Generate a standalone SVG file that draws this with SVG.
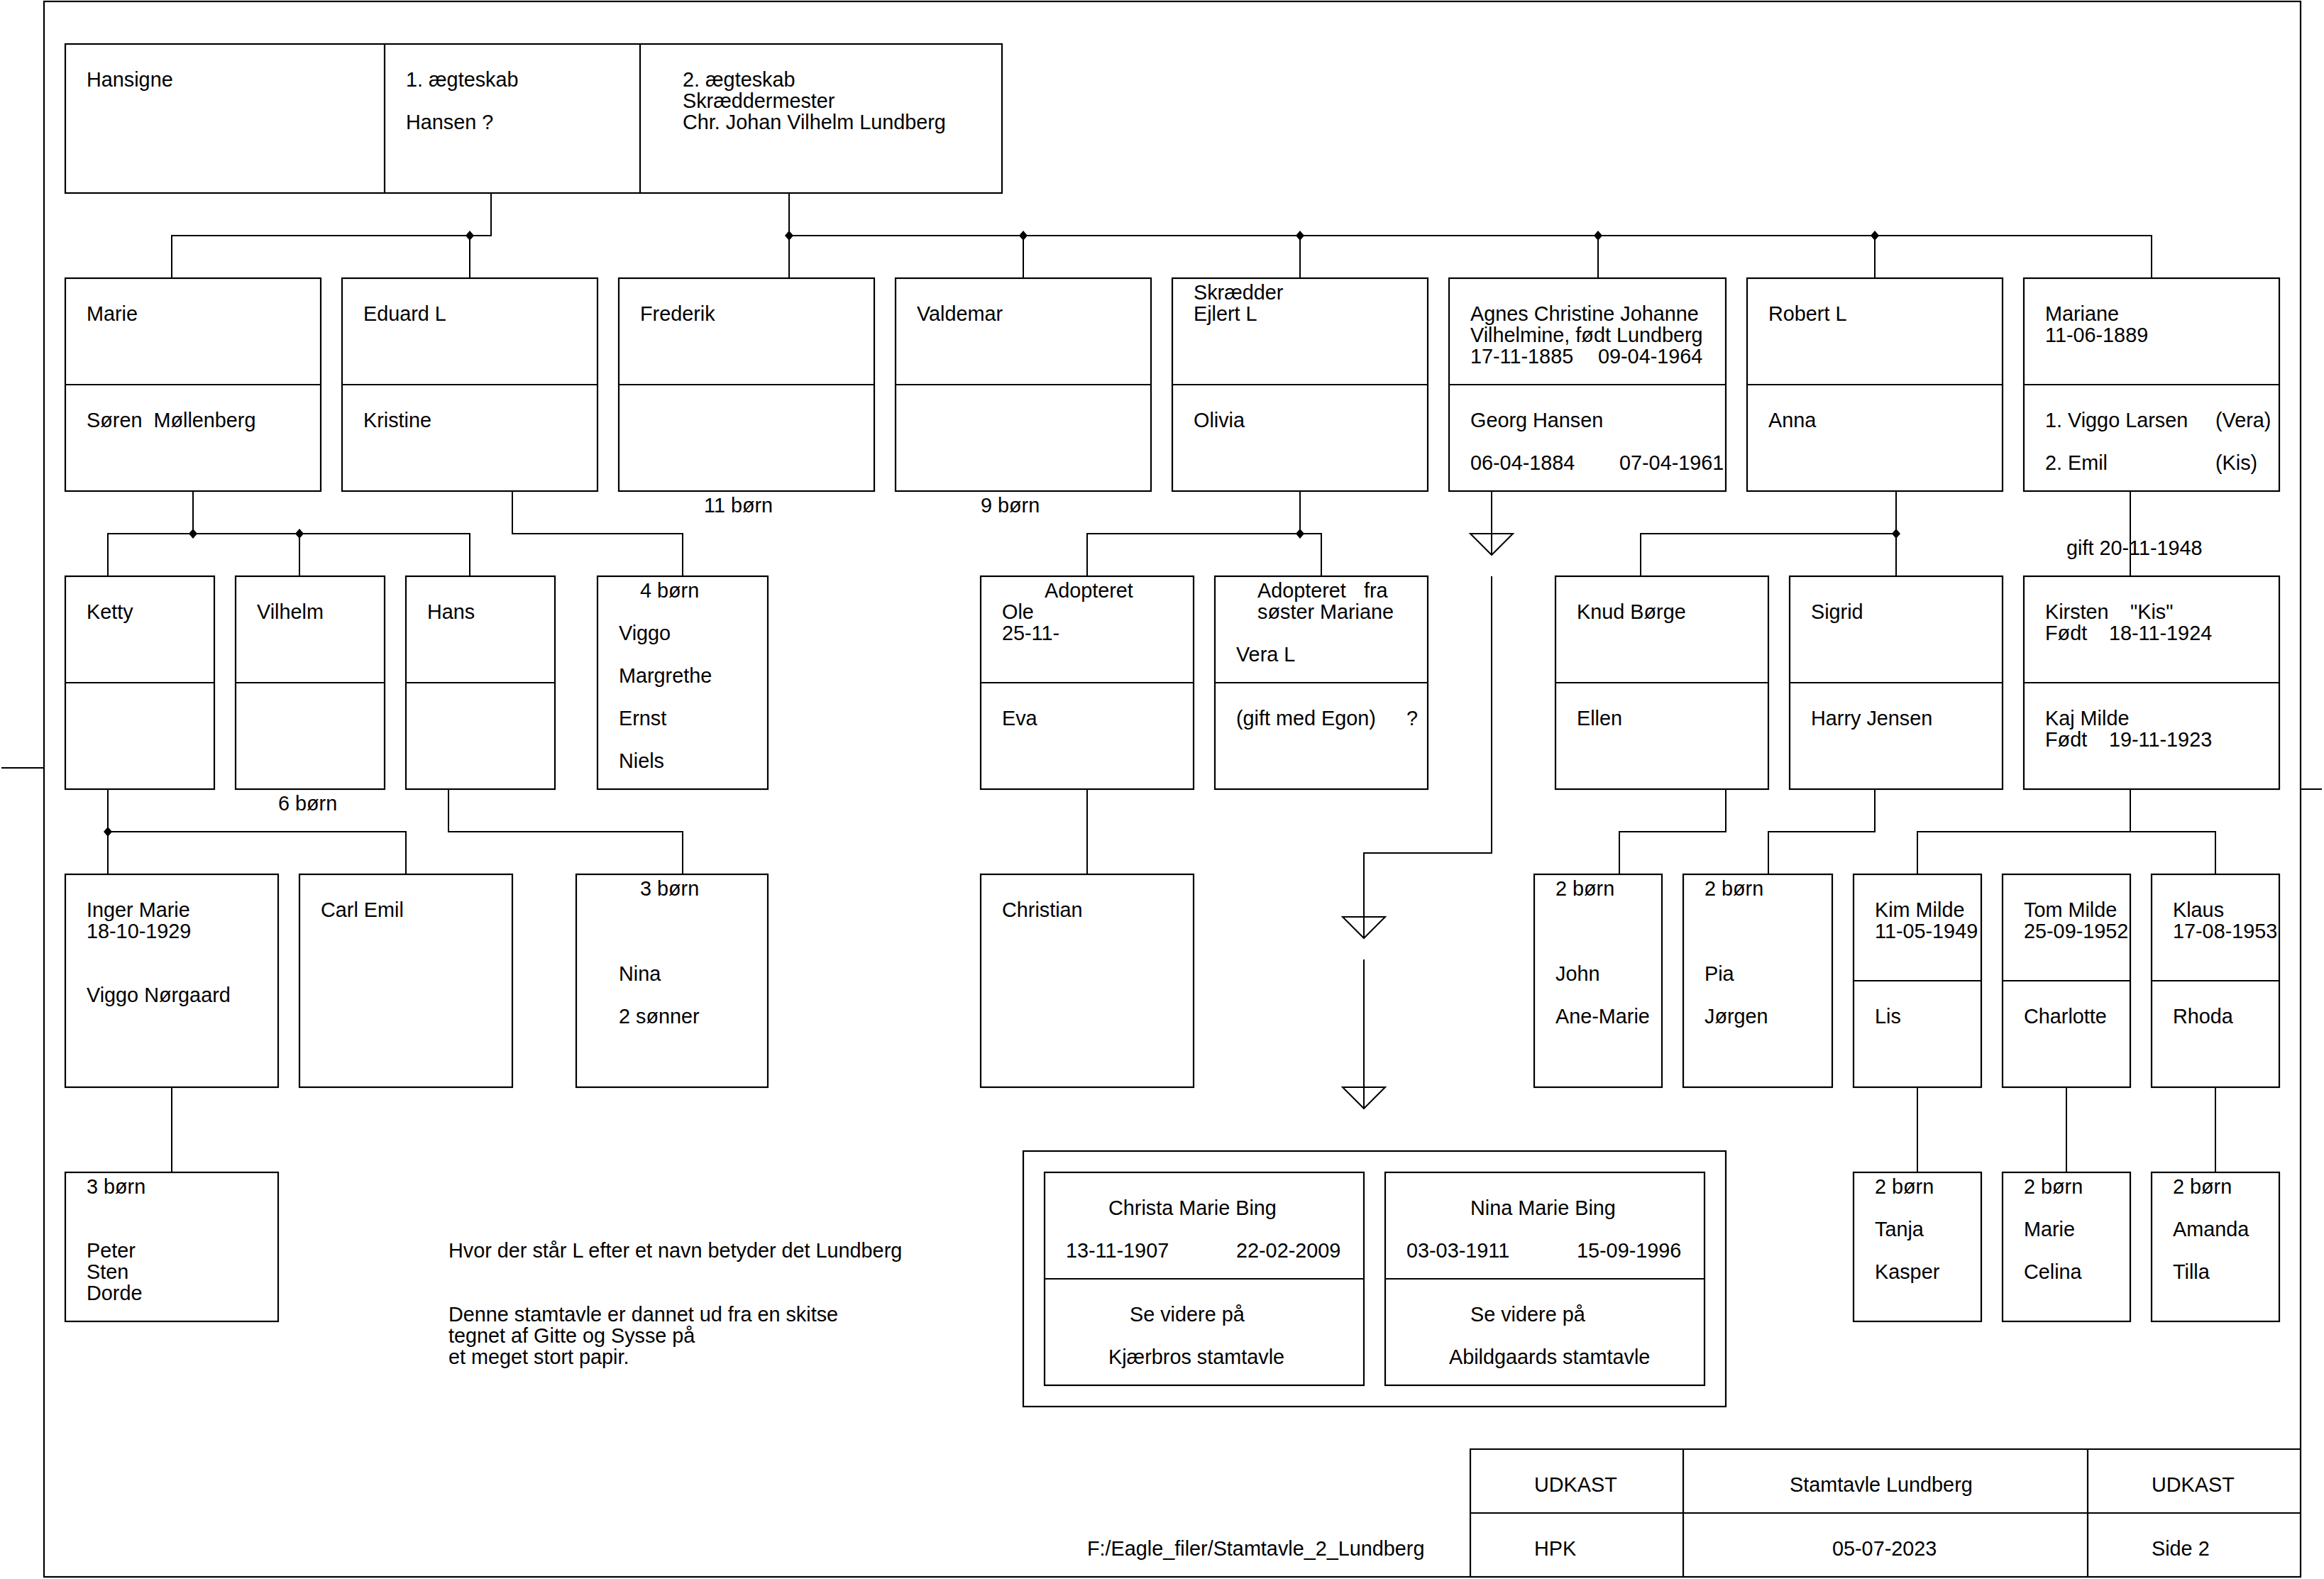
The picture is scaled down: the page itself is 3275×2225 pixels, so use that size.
<svg xmlns="http://www.w3.org/2000/svg" xmlns:xlink="http://www.w3.org/1999/xlink" width="3275" height="2225" viewBox="0 0 3275 2225">
<style>
.b{fill:none;stroke:#000;stroke-width:2.2}
.c{fill:none;stroke:#000;stroke-width:2}
text{font-family:"Liberation Sans",Arial,sans-serif;font-size:28.8px;fill:#000;white-space:pre}
</style>
<defs>
<path id="dot" d="M0,-7 L6,0 L0,7 L-6,0 Z" fill="#000"/>
</defs>
<rect x="0" y="0" width="3275" height="2225" fill="#fff"/>
<g id="frame">
<rect class="b" x="62" y="2" width="3180" height="2220"/>
<line class="c" x1="2" y1="1082" x2="62" y2="1082"/>
<line class="c" x1="3242" y1="1112" x2="3272" y2="1112"/>
</g>
<g id="connectors">
<polyline class="c" points="692,272 692,332 242,332 242,392"/>
<line class="c" x1="662" y1="332" x2="662" y2="392"/>
<use xlink:href="#dot" x="662" y="332"/>
<polyline class="c" points="1112,272 1112,332 3032,332 3032,392"/>
<line class="c" x1="1112" y1="332" x2="1112" y2="392"/>
<line class="c" x1="1442" y1="332" x2="1442" y2="392"/>
<line class="c" x1="1832" y1="332" x2="1832" y2="392"/>
<line class="c" x1="2252" y1="332" x2="2252" y2="392"/>
<line class="c" x1="2642" y1="332" x2="2642" y2="392"/>
<use xlink:href="#dot" x="1112" y="332"/>
<use xlink:href="#dot" x="1442" y="332"/>
<use xlink:href="#dot" x="1832" y="332"/>
<use xlink:href="#dot" x="2252" y="332"/>
<use xlink:href="#dot" x="2642" y="332"/>
<polyline class="c" points="272,692 272,752"/>
<polyline class="c" points="152,812 152,752 662,752 662,812"/>
<line class="c" x1="422" y1="752" x2="422" y2="812"/>
<use xlink:href="#dot" x="272" y="752"/>
<use xlink:href="#dot" x="422" y="752"/>
<polyline class="c" points="722,692 722,752 962,752 962,812"/>
<line class="c" x1="1832" y1="692" x2="1832" y2="752"/>
<polyline class="c" points="1532,812 1532,752 1862,752 1862,812"/>
<use xlink:href="#dot" x="1832" y="752"/>
<line class="c" x1="2102" y1="692" x2="2102" y2="782"/>
<polygon class="c" points="2072,752 2132,752 2102,782"/>
<polyline class="c" points="2102,812 2102,1202 1922,1202 1922,1322"/>
<polygon class="c" points="1892,1292 1952,1292 1922,1322"/>
<line class="c" x1="1922" y1="1352" x2="1922" y2="1562"/>
<polygon class="c" points="1892,1532 1952,1532 1922,1562"/>
<line class="c" x1="2672" y1="692" x2="2672" y2="752"/>
<polyline class="c" points="2312,812 2312,752 2672,752 2672,812"/>
<use xlink:href="#dot" x="2672" y="752"/>
<line class="c" x1="3002" y1="692" x2="3002" y2="812"/>
<line class="c" x1="152" y1="1112" x2="152" y2="1232"/>
<polyline class="c" points="152,1172 572,1172 572,1232"/>
<use xlink:href="#dot" x="152" y="1172"/>
<polyline class="c" points="632,1112 632,1172 962,1172 962,1232"/>
<line class="c" x1="1532" y1="1112" x2="1532" y2="1232"/>
<polyline class="c" points="2432,1112 2432,1172 2282,1172 2282,1232"/>
<polyline class="c" points="2642,1112 2642,1172 2492,1172 2492,1232"/>
<line class="c" x1="3002" y1="1112" x2="3002" y2="1172"/>
<polyline class="c" points="2702,1232 2702,1172 3122,1172 3122,1232"/>
<line class="c" x1="242" y1="1532" x2="242" y2="1652"/>
<line class="c" x1="2702" y1="1532" x2="2702" y2="1652"/>
<line class="c" x1="2912" y1="1532" x2="2912" y2="1652"/>
<line class="c" x1="3122" y1="1532" x2="3122" y2="1652"/>
</g>
<g id="n_hansigne">
<rect class="b" x="92" y="62" width="1320" height="210"/>
<line class="b" x1="542" y1="62" x2="542" y2="272"/>
<line class="b" x1="902" y1="62" x2="902" y2="272"/>
<text x="122" y="122">Hansigne</text>
<text x="572" y="122">1. ægteskab</text>
<text x="572" y="182">Hansen ?</text>
<text x="962" y="122">2. ægteskab</text>
<text x="962" y="152">Skræddermester</text>
<text x="962" y="182">Chr. Johan Vilhelm Lundberg</text>
</g>
<g id="n_marie">
<rect class="b" x="92" y="392" width="360" height="300"/>
<line class="b" x1="92" y1="542" x2="452" y2="542"/>
<text x="122" y="452">Marie</text>
<text x="122" y="602">Søren  Møllenberg</text>
</g>
<g id="n_eduard">
<rect class="b" x="482" y="392" width="360" height="300"/>
<line class="b" x1="482" y1="542" x2="842" y2="542"/>
<text x="512" y="452">Eduard L</text>
<text x="512" y="602">Kristine</text>
</g>
<g id="n_frederik">
<rect class="b" x="872" y="392" width="360" height="300"/>
<line class="b" x1="872" y1="542" x2="1232" y2="542"/>
<text x="902" y="452">Frederik</text>
<text x="992" y="722">11 børn</text>
</g>
<g id="n_valdemar">
<rect class="b" x="1262" y="392" width="360" height="300"/>
<line class="b" x1="1262" y1="542" x2="1622" y2="542"/>
<text x="1292" y="452">Valdemar</text>
<text x="1382" y="722">9 børn</text>
</g>
<g id="n_ejlert">
<rect class="b" x="1652" y="392" width="360" height="300"/>
<line class="b" x1="1652" y1="542" x2="2012" y2="542"/>
<text x="1682" y="422">Skrædder</text>
<text x="1682" y="452">Ejlert L</text>
<text x="1682" y="602">Olivia</text>
</g>
<g id="n_agnes">
<rect class="b" x="2042" y="392" width="390" height="300"/>
<line class="b" x1="2042" y1="542" x2="2432" y2="542"/>
<text x="2072" y="452">Agnes Christine Johanne</text>
<text x="2072" y="482">Vilhelmine, født Lundberg</text>
<text x="2072" y="512">17-11-1885</text>
<text x="2252" y="512">09-04-1964</text>
<text x="2072" y="602">Georg Hansen</text>
<text x="2072" y="662">06-04-1884</text>
<text x="2282" y="662">07-04-1961</text>
</g>
<g id="n_robert">
<rect class="b" x="2462" y="392" width="360" height="300"/>
<line class="b" x1="2462" y1="542" x2="2822" y2="542"/>
<text x="2492" y="452">Robert L</text>
<text x="2492" y="602">Anna</text>
</g>
<g id="n_mariane">
<rect class="b" x="2852" y="392" width="360" height="300"/>
<line class="b" x1="2852" y1="542" x2="3212" y2="542"/>
<text x="2882" y="452">Mariane</text>
<text x="2882" y="482">11-06-1889</text>
<text x="2882" y="602">1. Viggo Larsen</text>
<text x="3122" y="602">(Vera)</text>
<text x="2882" y="662">2. Emil</text>
<text x="3122" y="662">(Kis)</text>
<text x="2912" y="782">gift 20-11-1948</text>
</g>
<g id="n_ketty">
<rect class="b" x="92" y="812" width="210" height="300"/>
<line class="b" x1="92" y1="962" x2="302" y2="962"/>
<text x="122" y="872">Ketty</text>
</g>
<g id="n_vilhelm">
<rect class="b" x="332" y="812" width="210" height="300"/>
<line class="b" x1="332" y1="962" x2="542" y2="962"/>
<text x="362" y="872">Vilhelm</text>
<text x="392" y="1142">6 børn</text>
</g>
<g id="n_hans">
<rect class="b" x="572" y="812" width="210" height="300"/>
<line class="b" x1="572" y1="962" x2="782" y2="962"/>
<text x="602" y="872">Hans</text>
</g>
<g id="n_eduard_born">
<rect class="b" x="842" y="812" width="240" height="300"/>
<text x="902" y="842">4 børn</text>
<text x="872" y="902">Viggo</text>
<text x="872" y="962">Margrethe</text>
<text x="872" y="1022">Ernst</text>
<text x="872" y="1082">Niels</text>
</g>
<g id="n_ole">
<rect class="b" x="1382" y="812" width="300" height="300"/>
<line class="b" x1="1382" y1="962" x2="1682" y2="962"/>
<text x="1472" y="842">Adopteret</text>
<text x="1412" y="872">Ole</text>
<text x="1412" y="902">25-11-</text>
<text x="1412" y="1022">Eva</text>
</g>
<g id="n_vera">
<rect class="b" x="1712" y="812" width="300" height="300"/>
<line class="b" x1="1712" y1="962" x2="2012" y2="962"/>
<text x="1772" y="842">Adopteret</text>
<text x="1922" y="842">fra</text>
<text x="1772" y="872">søster Mariane</text>
<text x="1742" y="932">Vera L</text>
<text x="1742" y="1022">(gift med Egon)</text>
<text x="1982" y="1022">?</text>
</g>
<g id="n_knud">
<rect class="b" x="2192" y="812" width="300" height="300"/>
<line class="b" x1="2192" y1="962" x2="2492" y2="962"/>
<text x="2222" y="872">Knud Børge</text>
<text x="2222" y="1022">Ellen</text>
</g>
<g id="n_sigrid">
<rect class="b" x="2522" y="812" width="300" height="300"/>
<line class="b" x1="2522" y1="962" x2="2822" y2="962"/>
<text x="2552" y="872">Sigrid</text>
<text x="2552" y="1022">Harry Jensen</text>
</g>
<g id="n_kirsten">
<rect class="b" x="2852" y="812" width="360" height="300"/>
<line class="b" x1="2852" y1="962" x2="3212" y2="962"/>
<text x="2882" y="872">Kirsten</text>
<text x="3002" y="872">"Kis"</text>
<text x="2882" y="902">Født</text>
<text x="2972" y="902">18-11-1924</text>
<text x="2882" y="1022">Kaj Milde</text>
<text x="2882" y="1052">Født</text>
<text x="2972" y="1052">19-11-1923</text>
</g>
<g id="n_inger">
<rect class="b" x="92" y="1232" width="300" height="300"/>
<text x="122" y="1292">Inger Marie</text>
<text x="122" y="1322">18-10-1929</text>
<text x="122" y="1412">Viggo Nørgaard</text>
</g>
<g id="n_carl">
<rect class="b" x="422" y="1232" width="300" height="300"/>
<text x="452" y="1292">Carl Emil</text>
</g>
<g id="n_hans_born">
<rect class="b" x="812" y="1232" width="270" height="300"/>
<text x="902" y="1262">3 børn</text>
<text x="872" y="1382">Nina</text>
<text x="872" y="1442">2 sønner</text>
</g>
<g id="n_christian">
<rect class="b" x="1382" y="1232" width="300" height="300"/>
<text x="1412" y="1292">Christian</text>
</g>
<g id="n_knud_born">
<rect class="b" x="2162" y="1232" width="180" height="300"/>
<text x="2192" y="1262">2 børn</text>
<text x="2192" y="1382">John</text>
<text x="2192" y="1442">Ane-Marie</text>
</g>
<g id="n_sigrid_born">
<rect class="b" x="2372" y="1232" width="210" height="300"/>
<text x="2402" y="1262">2 børn</text>
<text x="2402" y="1382">Pia</text>
<text x="2402" y="1442">Jørgen</text>
</g>
<g id="n_kim">
<rect class="b" x="2612" y="1232" width="180" height="300"/>
<line class="b" x1="2612" y1="1382" x2="2792" y2="1382"/>
<text x="2642" y="1292">Kim Milde</text>
<text x="2642" y="1322">11-05-1949</text>
<text x="2642" y="1442">Lis</text>
</g>
<g id="n_tom">
<rect class="b" x="2822" y="1232" width="180" height="300"/>
<line class="b" x1="2822" y1="1382" x2="3002" y2="1382"/>
<text x="2852" y="1292">Tom Milde</text>
<text x="2852" y="1322">25-09-1952</text>
<text x="2852" y="1442">Charlotte</text>
</g>
<g id="n_klaus">
<rect class="b" x="3032" y="1232" width="180" height="300"/>
<line class="b" x1="3032" y1="1382" x2="3212" y2="1382"/>
<text x="3062" y="1292">Klaus</text>
<text x="3062" y="1322">17-08-1953</text>
<text x="3062" y="1442">Rhoda</text>
</g>
<g id="n_inger_born">
<rect class="b" x="92" y="1652" width="300" height="210"/>
<text x="122" y="1682">3 børn</text>
<text x="122" y="1772">Peter</text>
<text x="122" y="1802">Sten</text>
<text x="122" y="1832">Dorde</text>
</g>
<g id="n_kim_born">
<rect class="b" x="2612" y="1652" width="180" height="210"/>
<text x="2642" y="1682">2 børn</text>
<text x="2642" y="1742">Tanja</text>
<text x="2642" y="1802">Kasper</text>
</g>
<g id="n_tom_born">
<rect class="b" x="2822" y="1652" width="180" height="210"/>
<text x="2852" y="1682">2 børn</text>
<text x="2852" y="1742">Marie</text>
<text x="2852" y="1802">Celina</text>
</g>
<g id="n_klaus_born">
<rect class="b" x="3032" y="1652" width="180" height="210"/>
<text x="3062" y="1682">2 børn</text>
<text x="3062" y="1742">Amanda</text>
<text x="3062" y="1802">Tilla</text>
</g>
<g id="notes">
<text x="632" y="1772">Hvor der står L efter et navn betyder det Lundberg</text>
<text x="632" y="1862">Denne stamtavle er dannet ud fra en skitse</text>
<text x="632" y="1892">tegnet af Gitte og Sysse på</text>
<text x="632" y="1922">et meget stort papir.</text>
</g>
<g id="n_bing">
<rect class="b" x="1442" y="1622" width="990" height="360"/>
<rect class="b" x="1472" y="1652" width="450" height="300"/>
<line class="b" x1="1472" y1="1802" x2="1922" y2="1802"/>
<rect class="b" x="1952" y="1652" width="450" height="300"/>
<line class="b" x1="1952" y1="1802" x2="2402" y2="1802"/>
<text x="1562" y="1712">Christa Marie Bing</text>
<text x="1502" y="1772">13-11-1907</text>
<text x="1742" y="1772">22-02-2009</text>
<text x="1592" y="1862">Se videre på</text>
<text x="1562" y="1922">Kjærbros stamtavle</text>
<text x="2072" y="1712">Nina Marie Bing</text>
<text x="1982" y="1772">03-03-1911</text>
<text x="2222" y="1772">15-09-1996</text>
<text x="2072" y="1862">Se videre på</text>
<text x="2042" y="1922">Abildgaards stamtavle</text>
</g>
<g id="titleblock">
<polyline class="b" points="2072,2222 2072,2042 3242,2042"/>
<line class="b" x1="2072" y1="2132" x2="3242" y2="2132"/>
<line class="b" x1="2372" y1="2042" x2="2372" y2="2222"/>
<line class="b" x1="2942" y1="2042" x2="2942" y2="2222"/>
<text x="2162" y="2102">UDKAST</text>
<text x="2522" y="2102">Stamtavle Lundberg</text>
<text x="3032" y="2102">UDKAST</text>
<text x="2162" y="2192">HPK</text>
<text x="2582" y="2192">05-07-2023</text>
<text x="3032" y="2192">Side 2</text>
<text x="1532" y="2192">F:/Eagle_filer/Stamtavle_2_Lundberg</text>
</g>
</svg>
